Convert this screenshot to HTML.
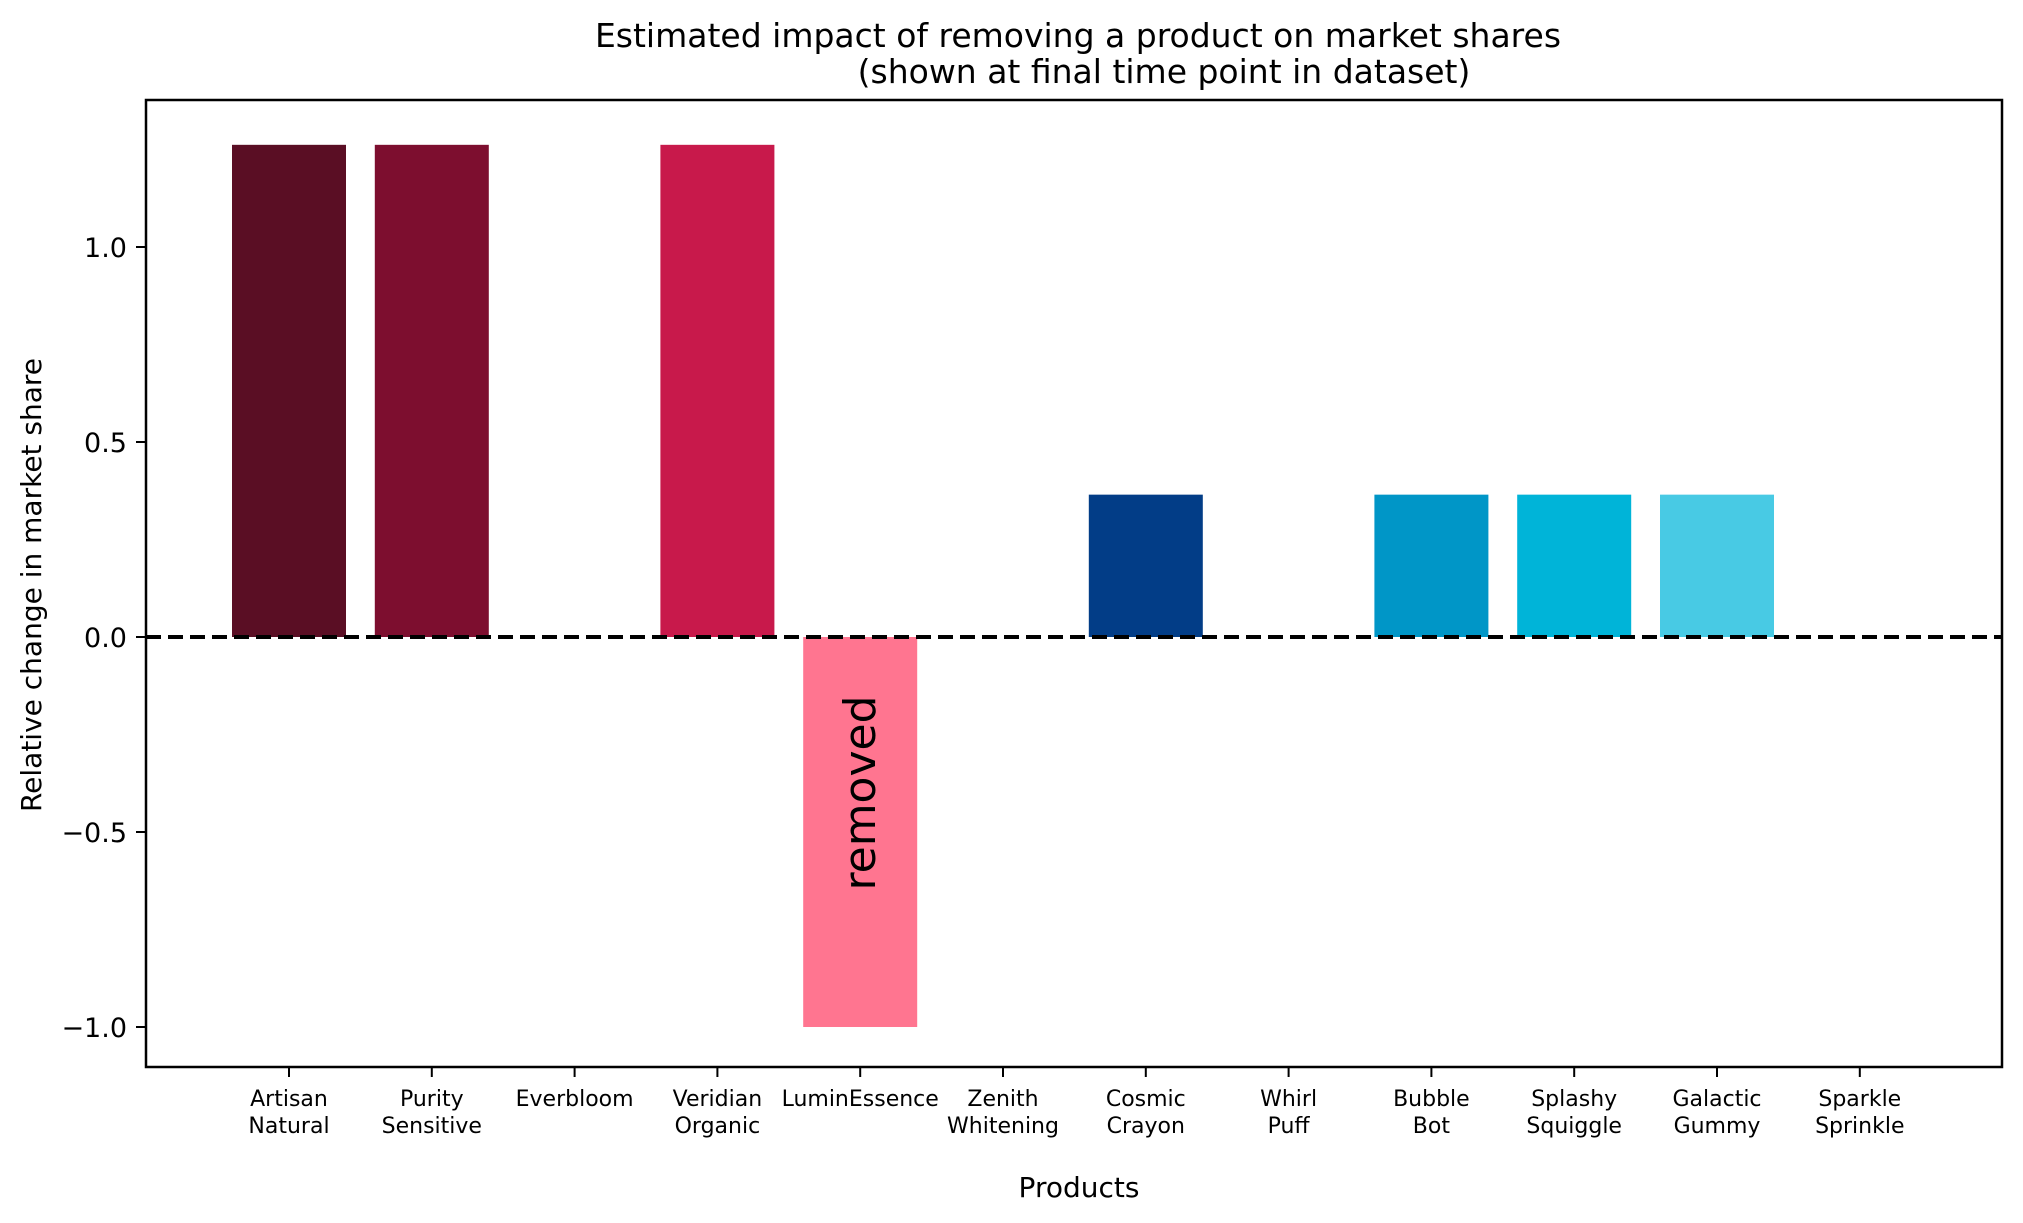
<!DOCTYPE html>
<html><head><meta charset="utf-8">
<style>
html,body{margin:0;padding:0;background:#fff;}
svg{display:block;font-family:"DejaVu Sans","Liberation Sans",sans-serif;}
</style></head>
<body>
<svg id="chart" width="2023" height="1223" viewBox="0 0 2023 1223" xmlns="http://www.w3.org/2000/svg">
<text x="1078" y="47" font-size="33" text-anchor="middle">Estimated impact of removing a product on market shares</text>
<text x="1164" y="83" font-size="33" text-anchor="middle">(shown at final time point in dataset)</text>
<g id="plot"></g>
<text x="1079" y="1197" font-size="28" text-anchor="middle">Products</text>
<text transform="translate(41,585) rotate(-90)" font-size="28" text-anchor="middle">Relative change in market share</text>
</svg>
<script>
const categories = ["Artisan\nNatural","Purity\nSensitive","Everbloom","Veridian\nOrganic","LuminEssence","Zenith\nWhitening","Cosmic\nCrayon","Whirl\nPuff","Bubble\nBot","Splashy\nSquiggle","Galactic\nGummy","Sparkle\nSprinkle"];
const values = [1.262, 1.262, 0, 1.262, -1.0, 0, 0.365, 0, 0.365, 0.365, 0.365, 0];
const colors = ["#5a0e24","#7d0e2f","#a8123d","#c8194b","#ff7590","#ffffff","#023d87","#0a6ab3","#0096c7","#00b4d8","#48cae4","#90e0ef"];
const yTicks = [-1.0, -0.5, 0.0, 0.5, 1.0];
const yTickLabels = ["\u22121.0","\u22120.5","0.0","0.5","1.0"];
const removedIndex = 4;

const NS = "http://www.w3.org/2000/svg";
const L = 146, R = 2002, T = 100, B = 1067;
const x0 = 289, step = 142.8, barW = 114;
const yZero = 637, yUnit = 390;
function xPos(i){ return x0 + step * i; }
function yPos(v){ return yZero - v * yUnit; }
const plot = document.getElementById('plot');
function mk(tag, attrs){ const e = document.createElementNS(NS, tag); for (const k in attrs) e.setAttribute(k, attrs[k]); plot.appendChild(e); return e; }

values.forEach((v, i) => {
  if (v === 0) return;
  const y1 = yPos(Math.max(v,0)), y2 = yPos(Math.min(v,0));
  const r = mk('rect', {x: xPos(i) - barW/2, y: y1, width: barW, height: y2 - y1, fill: colors[i]});
  
  
});

{
  const cx = xPos(removedIndex), cy = yPos(values[removedIndex] * 0.4);
  const t = mk('text', {transform: `translate(${cx + 15},${cy}) rotate(-90)`, 'font-size': 44, 'text-anchor': 'middle'});
  t.textContent = 'removed';
  
  
}

{
  const l = mk('line', {x1: L, x2: R, y1: yPos(0), y2: yPos(0), stroke: '#000', 'stroke-width': 4, 'stroke-dasharray': '15 7'});
  
  
}

{
  const f = mk('rect', {x: L, y: T, width: R - L, height: B - T, fill: 'none', stroke: '#000', 'stroke-width': 2.5});
  
  
}

yTicks.forEach((v, i) => {
  const y = yPos(v);
  const tk = mk('line', {x1: L - 10, x2: L, y1: y, y2: y, stroke: '#000', 'stroke-width': 2});
  
  
  const t = mk('text', {x: L - 19, y: y + 10, 'font-size': 27, 'text-anchor': 'end'});
  t.textContent = yTickLabels[i];
  
  
});

categories.forEach((c, i) => {
  const x = xPos(i);
  const tk = mk('line', {x1: x, x2: x, y1: B, y2: B + 10, stroke: '#000', 'stroke-width': 2});
  
  
  const t = mk('text', {x: x, y: 1106, 'font-size': 22, 'text-anchor': 'middle'});
  
  
  c.split('\n').forEach((line, j) => {
    const s = document.createElementNS(NS, 'tspan');
    s.setAttribute('x', x);
    s.setAttribute('dy', j === 0 ? 0 : 27);
    s.textContent = line;
    t.appendChild(s);
  });
});
</script>
</body></html>
